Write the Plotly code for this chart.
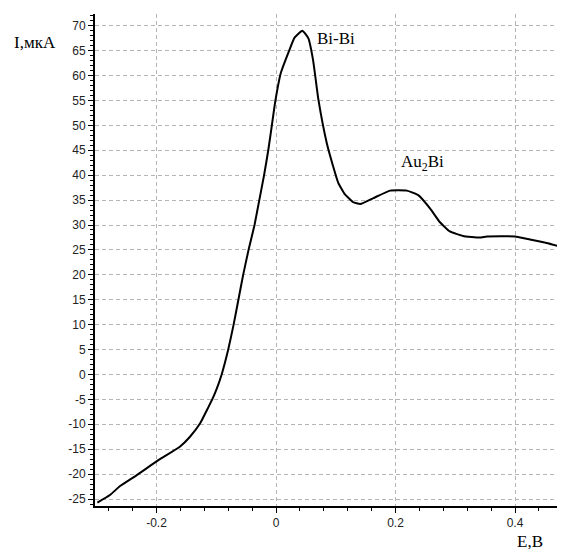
import plotly.graph_objects as go

# Potential E (V) and current I (uA)
E_values = [-0.299, -0.278, -0.261, -0.233, -0.197, -0.161, -0.144, -0.127, -0.113,
            -0.106, -0.099, -0.091, -0.080, -0.071, -0.063, -0.055, -0.046, -0.036,
            -0.028, -0.020, -0.013, -0.007, -0.001, 0.008, 0.022, 0.031, 0.044,
            0.054, 0.062, 0.071, 0.085,
            0.095, 0.104, 0.115, 0.129, 0.141, 0.163, 0.191, 0.219, 0.238, 0.258,
            0.274, 0.291, 0.313, 0.341, 0.353, 0.400, 0.425, 0.453, 0.481]
I_values = [-25.7, -24.2, -22.4, -20.2, -17.2, -14.5, -12.5, -9.8, -6.5,
            -4.8, -2.8, 0.0, 5.0, 10.0, 15.0, 20.0, 25.0, 30.0,
            35.0, 40.0, 45.0, 50.0, 55.0, 60.5, 65.0, 67.6, 69.0,
            67.5, 63.1, 55.1, 46.4,
            42.0, 38.5, 36.2, 34.6, 34.2, 35.4, 36.9, 36.9, 36.0, 33.3,
            30.6, 28.7, 27.8, 27.5, 27.7, 27.7, 27.1, 26.4, 25.5]

x_ticks = [-0.2, 0, 0.2, 0.4]
x_ticklabels = ["-0.2", "0", "0.2", "0.4"]
y_ticks = [-25, -20, -15, -10, -5, 0, 5, 10, 15, 20, 25, 30, 35, 40, 45, 50, 55, 60, 65, 70]
y_ticklabels = ["-25", "-20", "-15", "-10", "-5", "0", "5", "10", "15", "20",
                "25", "30", "35", "40", "45", "50", "55", "60", "65", "70"]

peak_labels = ["Bi-Bi", "Au<sub>2</sub>Bi"]
peak_x = [0.065, 0.206]
peak_y = [67.4, 42.4]

fig = go.Figure()
fig.add_trace(go.Scatter(x=E_values, y=I_values, mode="lines",
                         line=dict(color="black", width=2, shape="spline", smoothing=0.4),
                         hoverinfo="skip", showlegend=False))

grid = dict(showgrid=True, gridcolor="#b4b4b4", gridwidth=1, griddash="4px,3px")

fig.update_xaxes(range=[-0.303, 0.482], tickvals=x_ticks, ticktext=x_ticklabels,
                 showline=True, linecolor="black", linewidth=2, zeroline=False,
                 ticks="outside", ticklen=5, tickcolor="black", tickwidth=1,
                 minor=dict(dtick=0.04, tick0=0, ticks="outside", ticklen=3,
                            tickcolor="black", showgrid=False),
                 tickfont=dict(family="Liberation Sans, Arial", size=12, color="#222"),
                 **grid)
fig.update_yaxes(range=[-26.4, 72.35], tickvals=y_ticks, ticktext=y_ticklabels,
                 showline=True, linecolor="black", linewidth=2, zeroline=False,
                 ticks="outside", ticklen=5, tickcolor="black", tickwidth=1,
                 minor=dict(dtick=1, tick0=0, ticks="outside", ticklen=3,
                            tickcolor="black", showgrid=False),
                 tickfont=dict(family="Liberation Sans, Arial", size=12, color="#222"),
                 **grid)

serif = dict(family="Liberation Serif, Times New Roman", size=17, color="black")
for lbl, px, py in zip(peak_labels, peak_x, peak_y):
    fig.add_annotation(x=px, y=py, text=lbl, showarrow=False, xanchor="left",
                       yanchor="middle", font=serif)

fig.add_annotation(xref="paper", yref="paper", x=-0.177, y=0.943, text="I,мкА",
                   showarrow=False, xanchor="left", yanchor="middle", font=serif)
fig.add_annotation(xref="paper", yref="paper", x=0.8955, y=-0.072, text="E,B",
                   showarrow=False, xanchor="left", yanchor="middle", font=serif)

# page body has an 8px default margin, so the figure is 8px smaller
fig.update_layout(width=557, height=544, margin=dict(l=87, r=1, t=6, b=46),
                  plot_bgcolor="white", paper_bgcolor="white")

fig.write_html("out.html")
